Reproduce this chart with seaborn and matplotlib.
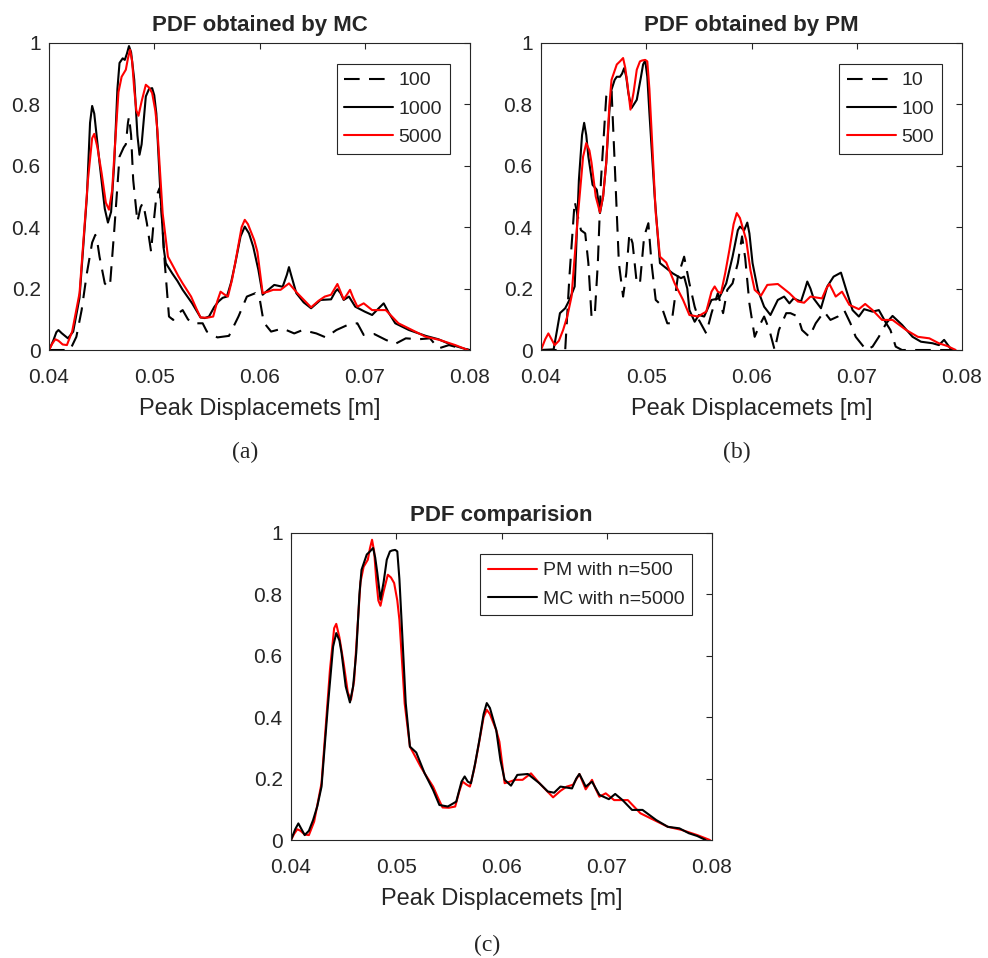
import numpy as np
import pandas as pd
import matplotlib
matplotlib.use("Agg")
import matplotlib.pyplot as plt
import seaborn as sns

# MC, n = 100 (dashed)
mc100_x = [0.0400, 0.0420, 0.0426, 0.0431, 0.0436, 0.0441, 0.0444, 0.0446, 0.0448, 0.0453,
           0.0456, 0.0458, 0.0462, 0.0467, 0.0471, 0.0473, 0.0475, 0.0476, 0.0478, 0.0480,
           0.0484, 0.0487, 0.0489, 0.0491, 0.0493, 0.0497, 0.0499, 0.0502, 0.0505, 0.0507,
           0.0510, 0.0514, 0.0518, 0.0523, 0.0527, 0.0532, 0.0536, 0.0546, 0.0550, 0.0560,
           0.0571, 0.0580, 0.0588, 0.0596, 0.0600, 0.0604, 0.0611, 0.0622, 0.0633, 0.0641,
           0.0654, 0.0663, 0.0673, 0.0684, 0.0693, 0.0699, 0.0709, 0.0720, 0.0729, 0.0739,
           0.0751, 0.0762, 0.0770, 0.0780, 0.0792, 0.0800]
mc100_y = [0.0, 0.0, 0.043, 0.13, 0.25, 0.35, 0.375, 0.35, 0.304, 0.217,
           0.205, 0.212, 0.39, 0.63, 0.66, 0.67, 0.74, 0.76, 0.70, 0.554,
           0.418, 0.465, 0.478, 0.45, 0.413, 0.32, 0.40, 0.5, 0.527, 0.45,
           0.283, 0.109, 0.098, 0.12, 0.13, 0.10, 0.087, 0.087, 0.06, 0.041,
           0.046, 0.109, 0.174, 0.185, 0.17, 0.09, 0.06, 0.07, 0.054, 0.065,
           0.054, 0.041, 0.065, 0.082, 0.087, 0.049, 0.052, 0.033, 0.02, 0.038,
           0.035, 0.038, 0.005, 0.016, 0.005, 0.0]

# MC, n = 1000 (solid black)
mc1000_x = [0.0400, 0.0404, 0.0407, 0.0409, 0.0412, 0.0418, 0.0423, 0.0429, 0.0436, 0.0439,
            0.0441, 0.0443, 0.0448, 0.0453, 0.0456, 0.0459, 0.0462, 0.0465, 0.0467, 0.0470,
            0.0472, 0.0474, 0.0476, 0.0478, 0.0481, 0.0484, 0.0486, 0.0488, 0.0492, 0.0495,
            0.0498, 0.0500, 0.0502, 0.0506, 0.0509, 0.0511, 0.0517, 0.0522, 0.0527, 0.0536,
            0.0544, 0.0548, 0.0552, 0.0557, 0.0561, 0.0565, 0.0569, 0.0573, 0.0577, 0.0582,
            0.0586, 0.0590, 0.0594, 0.0599, 0.0603, 0.0608, 0.0614, 0.0622, 0.0626, 0.0628,
            0.0630, 0.0635, 0.0642, 0.0649, 0.0658, 0.0668, 0.0672, 0.0674, 0.0677, 0.0680,
            0.0685, 0.0691, 0.0700, 0.0707, 0.0713, 0.0718, 0.0723, 0.0729, 0.0742, 0.0758,
            0.0770, 0.0783, 0.0799]
mc1000_y = [0.0, 0.03, 0.058, 0.065, 0.055, 0.038, 0.06, 0.17, 0.50, 0.74,
            0.795, 0.77, 0.61, 0.46, 0.415, 0.45, 0.61, 0.85, 0.935, 0.95,
            0.945, 0.965, 0.99, 0.97, 0.88, 0.70, 0.636, 0.67, 0.826, 0.85,
            0.853, 0.83, 0.77, 0.5, 0.33, 0.283, 0.25, 0.225, 0.196, 0.152,
            0.106, 0.104, 0.109, 0.14, 0.158, 0.17, 0.174, 0.22, 0.283, 0.37,
            0.402, 0.38, 0.337, 0.26, 0.18, 0.195, 0.212, 0.206, 0.245, 0.27,
            0.245, 0.185, 0.155, 0.136, 0.163, 0.165, 0.19, 0.198, 0.185, 0.163,
            0.174, 0.141, 0.125, 0.114, 0.135, 0.152, 0.12, 0.087, 0.065, 0.046,
            0.035, 0.016, 0.0]

# MC, n = 5000 (solid red)
mc5000_x = [0.0400, 0.0403, 0.0406, 0.0409, 0.0413, 0.0417, 0.0422, 0.0429, 0.0437, 0.0441,
            0.0443, 0.0446, 0.0450, 0.0454, 0.0457, 0.0460, 0.0462, 0.0466, 0.0469, 0.0473,
            0.0475, 0.0477, 0.0479, 0.0481, 0.0483, 0.0485, 0.0488, 0.0492, 0.0495, 0.0498,
            0.0501, 0.0503, 0.0508, 0.0513, 0.0519, 0.0523, 0.0527, 0.0535, 0.0540, 0.0544,
            0.0550, 0.0556, 0.0560, 0.0563, 0.0567, 0.0570, 0.0574, 0.0578, 0.0583, 0.0586,
            0.0589, 0.0595, 0.0598, 0.0603, 0.0608, 0.0613, 0.0620, 0.0628, 0.0636, 0.0649,
            0.0656, 0.0662, 0.0668, 0.0674, 0.0677, 0.0680, 0.0683, 0.0686, 0.0689, 0.0693,
            0.0699, 0.0707, 0.0720, 0.0732, 0.0745, 0.0758, 0.0771, 0.0786, 0.0798]
mc5000_y = [0.0, 0.02, 0.035, 0.03, 0.018, 0.016, 0.06, 0.185, 0.554, 0.69,
            0.704, 0.66, 0.576, 0.48, 0.457, 0.52, 0.63, 0.84, 0.89, 0.913,
            0.95, 0.978, 0.94, 0.848, 0.78, 0.763, 0.81, 0.864, 0.855, 0.837,
            0.78, 0.717, 0.445, 0.304, 0.266, 0.24, 0.217, 0.174, 0.135, 0.106,
            0.105, 0.109, 0.16, 0.19, 0.18, 0.174, 0.23, 0.304, 0.40, 0.424,
            0.41, 0.358, 0.32, 0.185, 0.19, 0.196, 0.196, 0.217, 0.185, 0.139,
            0.16, 0.174, 0.18, 0.215, 0.19, 0.165, 0.18, 0.196, 0.17, 0.141,
            0.152, 0.13, 0.13, 0.087, 0.065, 0.043, 0.033, 0.016, 0.0]

# PM, n = 10 (dashed)
pm10_x = [0.0400, 0.0423, 0.0427, 0.0432, 0.0435, 0.0438, 0.0442, 0.0445, 0.0448, 0.0451,
          0.0454, 0.0457, 0.0462, 0.0467, 0.0470, 0.0474, 0.0478, 0.0481, 0.0484, 0.0487,
          0.0491, 0.0494, 0.0498, 0.0502, 0.0505, 0.0509, 0.0514, 0.0520, 0.0524, 0.0530,
          0.0536, 0.0541, 0.0546, 0.0550, 0.0557, 0.0562, 0.0568, 0.0573, 0.0577, 0.0582,
          0.0587, 0.0591, 0.0594, 0.0598, 0.0603, 0.0607, 0.0612, 0.0617, 0.0622, 0.0626,
          0.0633, 0.0637, 0.0644, 0.0648, 0.0655, 0.0661, 0.0669, 0.0675, 0.0682, 0.0688,
          0.0694, 0.0699, 0.0709, 0.0715, 0.0721, 0.0728, 0.0732, 0.0737, 0.0743, 0.0800]
pm10_y = [0.0, 0.0, 0.239, 0.484, 0.435, 0.39, 0.38, 0.283, 0.109, 0.109,
          0.283, 0.554, 0.826, 0.848, 0.61, 0.283, 0.174, 0.25, 0.38, 0.348,
          0.217, 0.217, 0.37, 0.413, 0.283, 0.163, 0.147, 0.087, 0.087, 0.239,
          0.304, 0.217, 0.141, 0.098, 0.054, 0.12, 0.185, 0.12, 0.196, 0.217,
          0.283, 0.37, 0.30, 0.152, 0.043, 0.076, 0.109, 0.065, 0.0, 0.065,
          0.12, 0.12, 0.109, 0.065, 0.043, 0.087, 0.125, 0.098, 0.109, 0.13,
          0.087, 0.043, 0.0, 0.011, 0.043, 0.087, 0.065, 0.011, 0.0, 0.0]

# PM, n = 100 (solid black)
pm100_x = [0.0400, 0.0412, 0.0415, 0.0418, 0.0423, 0.0427, 0.0432, 0.0436, 0.0439, 0.0441,
           0.0443, 0.0445, 0.0449, 0.0453, 0.0456, 0.0459, 0.0462, 0.0465, 0.0467, 0.0470,
           0.0472, 0.0475, 0.0477, 0.0479, 0.0481, 0.0483, 0.0486, 0.0491, 0.0495, 0.0497,
           0.0499, 0.0501, 0.0503, 0.0508, 0.0513, 0.0517, 0.0525, 0.0533, 0.0536, 0.0539,
           0.0541, 0.0546, 0.0550, 0.0555, 0.0562, 0.0569, 0.0576, 0.0582, 0.0587, 0.0589,
           0.0593, 0.0596, 0.0598, 0.0601, 0.0606, 0.0612, 0.0618, 0.0625, 0.0631, 0.0636,
           0.0640, 0.0647, 0.0651, 0.0653, 0.0656, 0.0659, 0.0666, 0.0672, 0.0678, 0.0685,
           0.0690, 0.0696, 0.0702, 0.0707, 0.0715, 0.0721, 0.0728, 0.0734, 0.0743, 0.0753,
           0.0761, 0.0772, 0.0778, 0.0783, 0.0789, 0.0792]
pm100_y = [0.0, 0.002, 0.06, 0.12, 0.136, 0.163, 0.207, 0.554, 0.70, 0.74,
           0.70, 0.63, 0.538, 0.522, 0.446, 0.50, 0.61, 0.78, 0.848, 0.88,
           0.89, 0.89, 0.90, 0.918, 0.89, 0.837, 0.788, 0.815, 0.89, 0.93,
           0.943, 0.89, 0.772, 0.5, 0.283, 0.272, 0.25, 0.234, 0.239, 0.20,
           0.13, 0.092, 0.114, 0.109, 0.163, 0.168, 0.217, 0.304, 0.39, 0.402,
           0.39, 0.415, 0.38, 0.283, 0.196, 0.141, 0.114, 0.163, 0.174, 0.152,
           0.168, 0.158, 0.20, 0.223, 0.20, 0.168, 0.136, 0.207, 0.239, 0.252,
           0.196, 0.13, 0.109, 0.133, 0.125, 0.13, 0.087, 0.111, 0.082, 0.043,
           0.027, 0.022, 0.016, 0.033, 0.005, 0.0]

# PM, n = 500 (solid red)
pm500_x = [0.0400, 0.0404, 0.0407, 0.0410, 0.0413, 0.0417, 0.0421, 0.0425, 0.0429, 0.0435,
           0.0440, 0.0443, 0.0446, 0.0448, 0.0452, 0.0456, 0.0459, 0.0462, 0.0465, 0.0467,
           0.0470, 0.0472, 0.0475, 0.0478, 0.0480, 0.0482, 0.0485, 0.0488, 0.0491, 0.0494,
           0.0496, 0.0499, 0.0501, 0.0503, 0.0505, 0.0509, 0.0513, 0.0519, 0.0527, 0.0535,
           0.0541, 0.0549, 0.0557, 0.0562, 0.0565, 0.0568, 0.0571, 0.0575, 0.0579, 0.0583,
           0.0586, 0.0589, 0.0595, 0.0599, 0.0603, 0.0609, 0.0615, 0.0625, 0.0636, 0.0644,
           0.0650, 0.0656, 0.0667, 0.0671, 0.0674, 0.0677, 0.0680, 0.0686, 0.0693, 0.0702,
           0.0708, 0.0715, 0.0724, 0.0734, 0.0747, 0.0758, 0.0769, 0.0778, 0.0786, 0.0794]
pm500_y = [0.0, 0.035, 0.054, 0.035, 0.016, 0.03, 0.065, 0.11, 0.174, 0.435,
           0.63, 0.674, 0.65, 0.61, 0.50, 0.448, 0.50, 0.61, 0.80, 0.88,
           0.91, 0.93, 0.94, 0.951, 0.92, 0.87, 0.783, 0.84, 0.913, 0.94,
           0.943, 0.945, 0.94, 0.85, 0.717, 0.446, 0.304, 0.285, 0.217, 0.163,
           0.114, 0.109, 0.125, 0.19, 0.207, 0.19, 0.185, 0.25, 0.326, 0.41,
           0.446, 0.43, 0.358, 0.26, 0.196, 0.177, 0.212, 0.215, 0.185, 0.158,
           0.154, 0.174, 0.168, 0.2, 0.215, 0.195, 0.174, 0.19, 0.147, 0.133,
           0.15, 0.13, 0.098, 0.098, 0.065, 0.043, 0.038, 0.022, 0.013, 0.0]

x_ticks = [0.04, 0.05, 0.06, 0.07, 0.08]
x_tick_labels = ["0.04", "0.05", "0.06", "0.07", "0.08"]
y_ticks = [0, 0.2, 0.4, 0.6, 0.8, 1]
y_tick_labels = ["0", "0.2", "0.4", "0.6", "0.8", "1"]

sns.set_theme(style="white")
plt.rcParams['font.family'] = ['Liberation Sans', 'DejaVu Sans']
plt.rcParams['axes.edgecolor'] = '#262626'
plt.rcParams['axes.linewidth'] = 0.8

DASH = (0, (7.5, 4.5))
GREY = '#262626'

fig = plt.figure(figsize=(9.88, 9.58), dpi=100)
W, H = 988, 958


def make_axes(left, top, w=421, h=307):
    return fig.add_axes([left / W, 1 - (top + h) / H, w / W, h / H])


def style_axes(ax, title):
    ax.set_xlim(0.04, 0.08)
    ax.set_ylim(0, 1)
    ax.set_xticks(x_ticks)
    ax.set_xticklabels(x_tick_labels)
    ax.set_yticks(y_ticks)
    ax.set_yticklabels(y_tick_labels)
    ax.tick_params(direction='in', top=True, right=True, length=4, width=0.8,
                   color=GREY, labelsize=15, labelcolor=GREY)
    ax.tick_params(axis='x', pad=13)
    ax.tick_params(axis='y', pad=6)
    ax.set_xlabel('Peak Displacemets [m]', fontsize=17, color=GREY, labelpad=8)
    ax.set_ylabel('')
    ax.set_title(title, fontsize=16, fontweight='bold', pad=9)
    for s in ax.spines.values():
        s.set_visible(True)
        s.set_color(GREY)


def line(ax, x, y, color, ls, label):
    sns.lineplot(x=x, y=y, ax=ax, color=color, linewidth=1.5, linestyle=ls,
                 label=label, estimator=None, sort=False)


def legend(ax, right_px, top_px):
    ax.legend(loc='upper right', bbox_to_anchor=(1 - right_px / 421, 1 - top_px / 307),
              borderaxespad=0, fontsize=14, handlelength=2.5, handletextpad=0.3,
              labelspacing=0.55, borderpad=0.4, fancybox=False, framealpha=1,
              edgecolor=GREY).get_frame().set_linewidth(0.8)


# (a) MC
ax1 = make_axes(49, 43)
line(ax1, mc100_x, mc100_y, 'black', DASH, '100')
line(ax1, mc1000_x, mc1000_y, 'black', '-', '1000')
line(ax1, mc5000_x, mc5000_y, 'red', '-', '5000')
style_axes(ax1, 'PDF obtained by MC')
legend(ax1, 20, 21)

# (b) PM
ax2 = make_axes(541, 43)
line(ax2, pm10_x, pm10_y, 'black', DASH, '10')
line(ax2, pm100_x, pm100_y, 'black', '-', '100')
line(ax2, pm500_x, pm500_y, 'red', '-', '500')
style_axes(ax2, 'PDF obtained by PM')
legend(ax2, 20, 21)

# (c) comparison
ax3 = make_axes(291, 533)
line(ax3, mc5000_x, mc5000_y, 'red', '-', 'PM with n=500')
line(ax3, pm500_x, pm500_y, 'black', '-', 'MC with n=5000')
style_axes(ax3, 'PDF comparision')
legend(ax3, 20, 21)

serif = ['Liberation Serif', 'DejaVu Serif']
fig.text(245 / W, 1 - 452 / H, '(a)', ha='center', va='center', fontsize=17, family=serif)
fig.text(737 / W, 1 - 452 / H, '(b)', ha='center', va='center', fontsize=17, family=serif)
fig.text(487 / W, 1 - 945 / H, '(c)', ha='center', va='center', fontsize=17, family=serif)

fig.savefig('out.png', dpi=100, facecolor='white')
